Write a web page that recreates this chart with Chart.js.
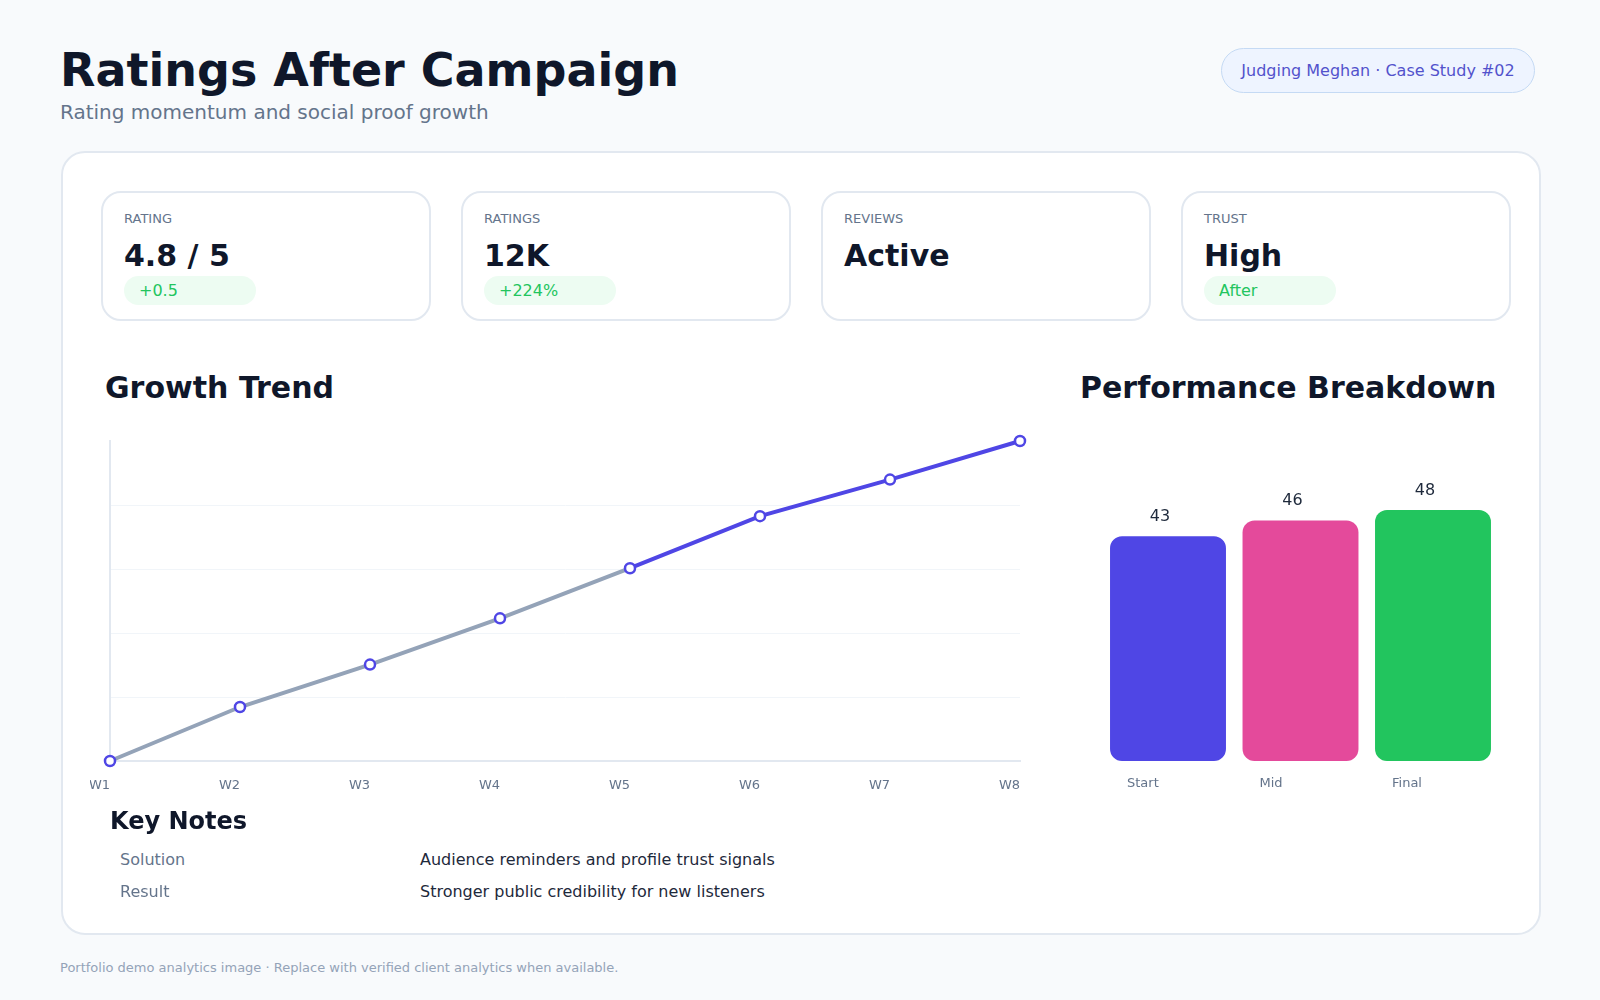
<!DOCTYPE html>
<html>
<head>
<meta charset="utf-8">
<script src="https://cdn.jsdelivr.net/npm/chart.js@4.4.1/dist/chart.umd.min.js"></script>
<style>
    body { margin: 0; width: 1600px; height: 1000px; background: #f8fafc; font-family: 'DejaVu Sans', sans-serif; position: relative; overflow: hidden; }
    .abs { position: absolute; white-space: nowrap; line-height: 1; }
    .title { left: 60px; top: 47px; font-size: 46px; font-weight: bold; color: #0f172a; }
    .subtitle { left: 60px; top: 102px; font-size: 20px; color: #64748b; }
    .pill { left: 1221px; top: 48px; width: 312px; height: 43px; border: 1px solid #c5daf4; border-radius: 23px; background: #eef4ff;
            color: #5252cc; font-size: 16px; display: flex; align-items: center; justify-content: center; }
    .panel { left: 61px; top: 151px; width: 1476px; height: 780px; background: #fff; border: 2px solid #e2e8f0; border-radius: 24px; }
    .kpi { top: 191px; width: 326px; height: 126px; border: 2px solid #e2e8f0; border-radius: 20px; background: #fff; }
    .kpi .lbl { position: absolute; left: 21px; top: 19px; font-size: 13px; color: #64748b; line-height: 1; }
    .kpi .val { position: absolute; left: 21px; top: 48px; font-size: 30px; font-weight: bold; color: #0f172a; line-height: 1; }
    .kpi .badge { position: absolute; left: 21px; top: 83px; width: 132px; height: 29px; border-radius: 15px; background: #edfcf2;
                  color: #22c55e; font-size: 16px; line-height: 29px; text-indent: 15px; }
    .h2 { top: 373px; font-size: 30px; font-weight: bold; color: #0f172a; }
    .notes-h { left: 110px; top: 809px; font-size: 24px; font-weight: bold; color: #0f172a; }
    .nk { left: 120px; font-size: 16px; color: #64748b; }
    .nv { left: 420px; font-size: 16px; color: #1e293b; }
    .footer { left: 60px; top: 961px; font-size: 13px; color: #94a3b8; }
    .chartbox { position: absolute; }
</style>
</head>
<body>
<div class="abs title">Ratings After Campaign</div>
<div class="abs subtitle">Rating momentum and social proof growth</div>
<div class="abs pill">Judging Meghan · Case Study #02</div>

<div class="abs panel"></div>

<div class="abs kpi" style="left:101px"><div class="lbl">RATING</div><div class="val">4.8 / 5</div><div class="badge">+0.5</div></div>
<div class="abs kpi" style="left:461px"><div class="lbl">RATINGS</div><div class="val">12K</div><div class="badge">+224%</div></div>
<div class="abs kpi" style="left:821px"><div class="lbl">REVIEWS</div><div class="val">Active</div></div>
<div class="abs kpi" style="left:1181px"><div class="lbl">TRUST</div><div class="val">High</div><div class="badge">After</div></div>

<div class="abs h2" style="left:105px">Growth Trend</div>
<div class="abs h2" style="left:1080px">Performance Breakdown</div>

<div class="chartbox" style="left:90px; top:420px; width:950px; height:390px;"><canvas id="trendChart"></canvas></div>
<div class="chartbox" style="left:1090px; top:420px; width:420px; height:390px;"><canvas id="breakdownChart"></canvas></div>

<div class="abs notes-h">Key Notes</div>
<div class="abs nk" style="top:852px">Solution</div>
<div class="abs nv" style="top:852px">Audience reminders and profile trust signals</div>
<div class="abs nk" style="top:884px">Result</div>
<div class="abs nv" style="top:884px">Stronger public credibility for new listeners</div>

<div class="abs footer">Portfolio demo analytics image · Replace with verified client analytics when available.</div>

<script>
// weekly ratings (thousands)
const weeks = ['W1', 'W2', 'W3', 'W4', 'W5', 'W6', 'W7', 'W8'];
const weeklyRatings = [3.7, 5.1, 6.2, 7.4, 8.7, 10.05, 11.0, 12.0];

// breakdown bars
const stages = ['Start', 'Mid', 'Final'];
const stageScores = [43, 46, 48];
const stageColors = ['#4f46e5', '#e44a9b', '#22c55e'];

const INDIGO = '#4f46e5';
const GRAY = '#94a3b8';

Chart.defaults.font.family = "'DejaVu Sans', sans-serif";
Chart.defaults.animation = false;

// Line chart - gray before campaign, indigo from W5 on
const ctxTrend = document.getElementById('trendChart').getContext('2d');
const trendChart = new Chart(ctxTrend, {
    type: 'line',
    data: {
        labels: weeks,
        datasets: [{
            data: weeklyRatings,
            borderWidth: 4,
            borderColor: GRAY,
            segment: {
                borderColor: ctx => ctx.p0DataIndex >= 4 ? INDIGO : GRAY
            },
            pointRadius: 5,
            pointBorderWidth: 2.5,
            pointBackgroundColor: '#ffffff',
            pointBorderColor: INDIGO,
            tension: 0,
            clip: false
        }]
    },
    options: {
        responsive: true,
        maintainAspectRatio: false,
        layout: { padding: { left: 20, right: 20, top: 21, bottom: 21 } },
        plugins: { legend: { display: false }, tooltip: { enabled: false } },
        scales: {
            x: {
                grid: { display: false, drawTicks: false },
                border: { display: true, color: '#e2e8f0', width: 2 },
                ticks: { align: 'end', padding: 17, color: '#64748b', font: { size: 13 }, autoSkip: false, maxRotation: 0 },
                afterFit: scale => {
                    // keep the plot area fixed, labels may hang over the edges
                    scale.paddingLeft = 0;
                    scale.paddingRight = 0;
                    scale.height = 28;
                }
            },
            y: {
                min: 3.7,
                max: 12,
                grid: {
                    drawTicks: false,
                    color: ctx => ctx.index === 5 ? 'rgba(0,0,0,0)' : '#f1f5f9',
                    lineWidth: 1
                },
                border: { display: true, color: '#e2e8f0', width: 2 },
                ticks: { display: false, count: 6 },
                afterFit: scale => {
                    scale.width = 0;
                    scale.paddingTop = 0;
                    scale.paddingBottom = 0;
                }
            }
        }
    }
});

// value labels above bars and category labels below them
const barLabels = {
    id: 'barLabels',
    afterDatasetsDraw(chart) {
        const c = chart.ctx;
        const meta = chart.getDatasetMeta(0);
        c.save();
        meta.data.forEach((bar, i) => {
            c.font = "16px 'DejaVu Sans', sans-serif";
            c.fillStyle = '#1e293b';
            c.textAlign = 'center';
            c.textBaseline = 'alphabetic';
            c.fillText(String(stageScores[i]), bar.x - 8, bar.y - 15);
            c.font = "13px 'DejaVu Sans', sans-serif";
            c.fillStyle = '#64748b';
            c.textAlign = 'left';
            c.fillText(stages[i], bar.x - 41, chart.chartArea.bottom + 26);
        });
        c.restore();
    }
};

const ctxBreakdown = document.getElementById('breakdownChart').getContext('2d');
const breakdownChart = new Chart(ctxBreakdown, {
    type: 'bar',
    data: {
        labels: stages,
        datasets: [{
            data: stageScores,
            backgroundColor: stageColors,
            borderRadius: 12,
            borderSkipped: false,
            categoryPercentage: 1,
            barPercentage: 0.875
        }]
    },
    options: {
        responsive: true,
        maintainAspectRatio: false,
        layout: { padding: { left: 11.75, right: 10.75, top: 21, bottom: 49 } },
        plugins: { legend: { display: false }, tooltip: { enabled: false } },
        scales: {
            x: { display: false },
            y: { display: false, min: 0, max: 61.2 }
        }
    },
    plugins: [barLabels]
});
</script>
</body>
</html>
